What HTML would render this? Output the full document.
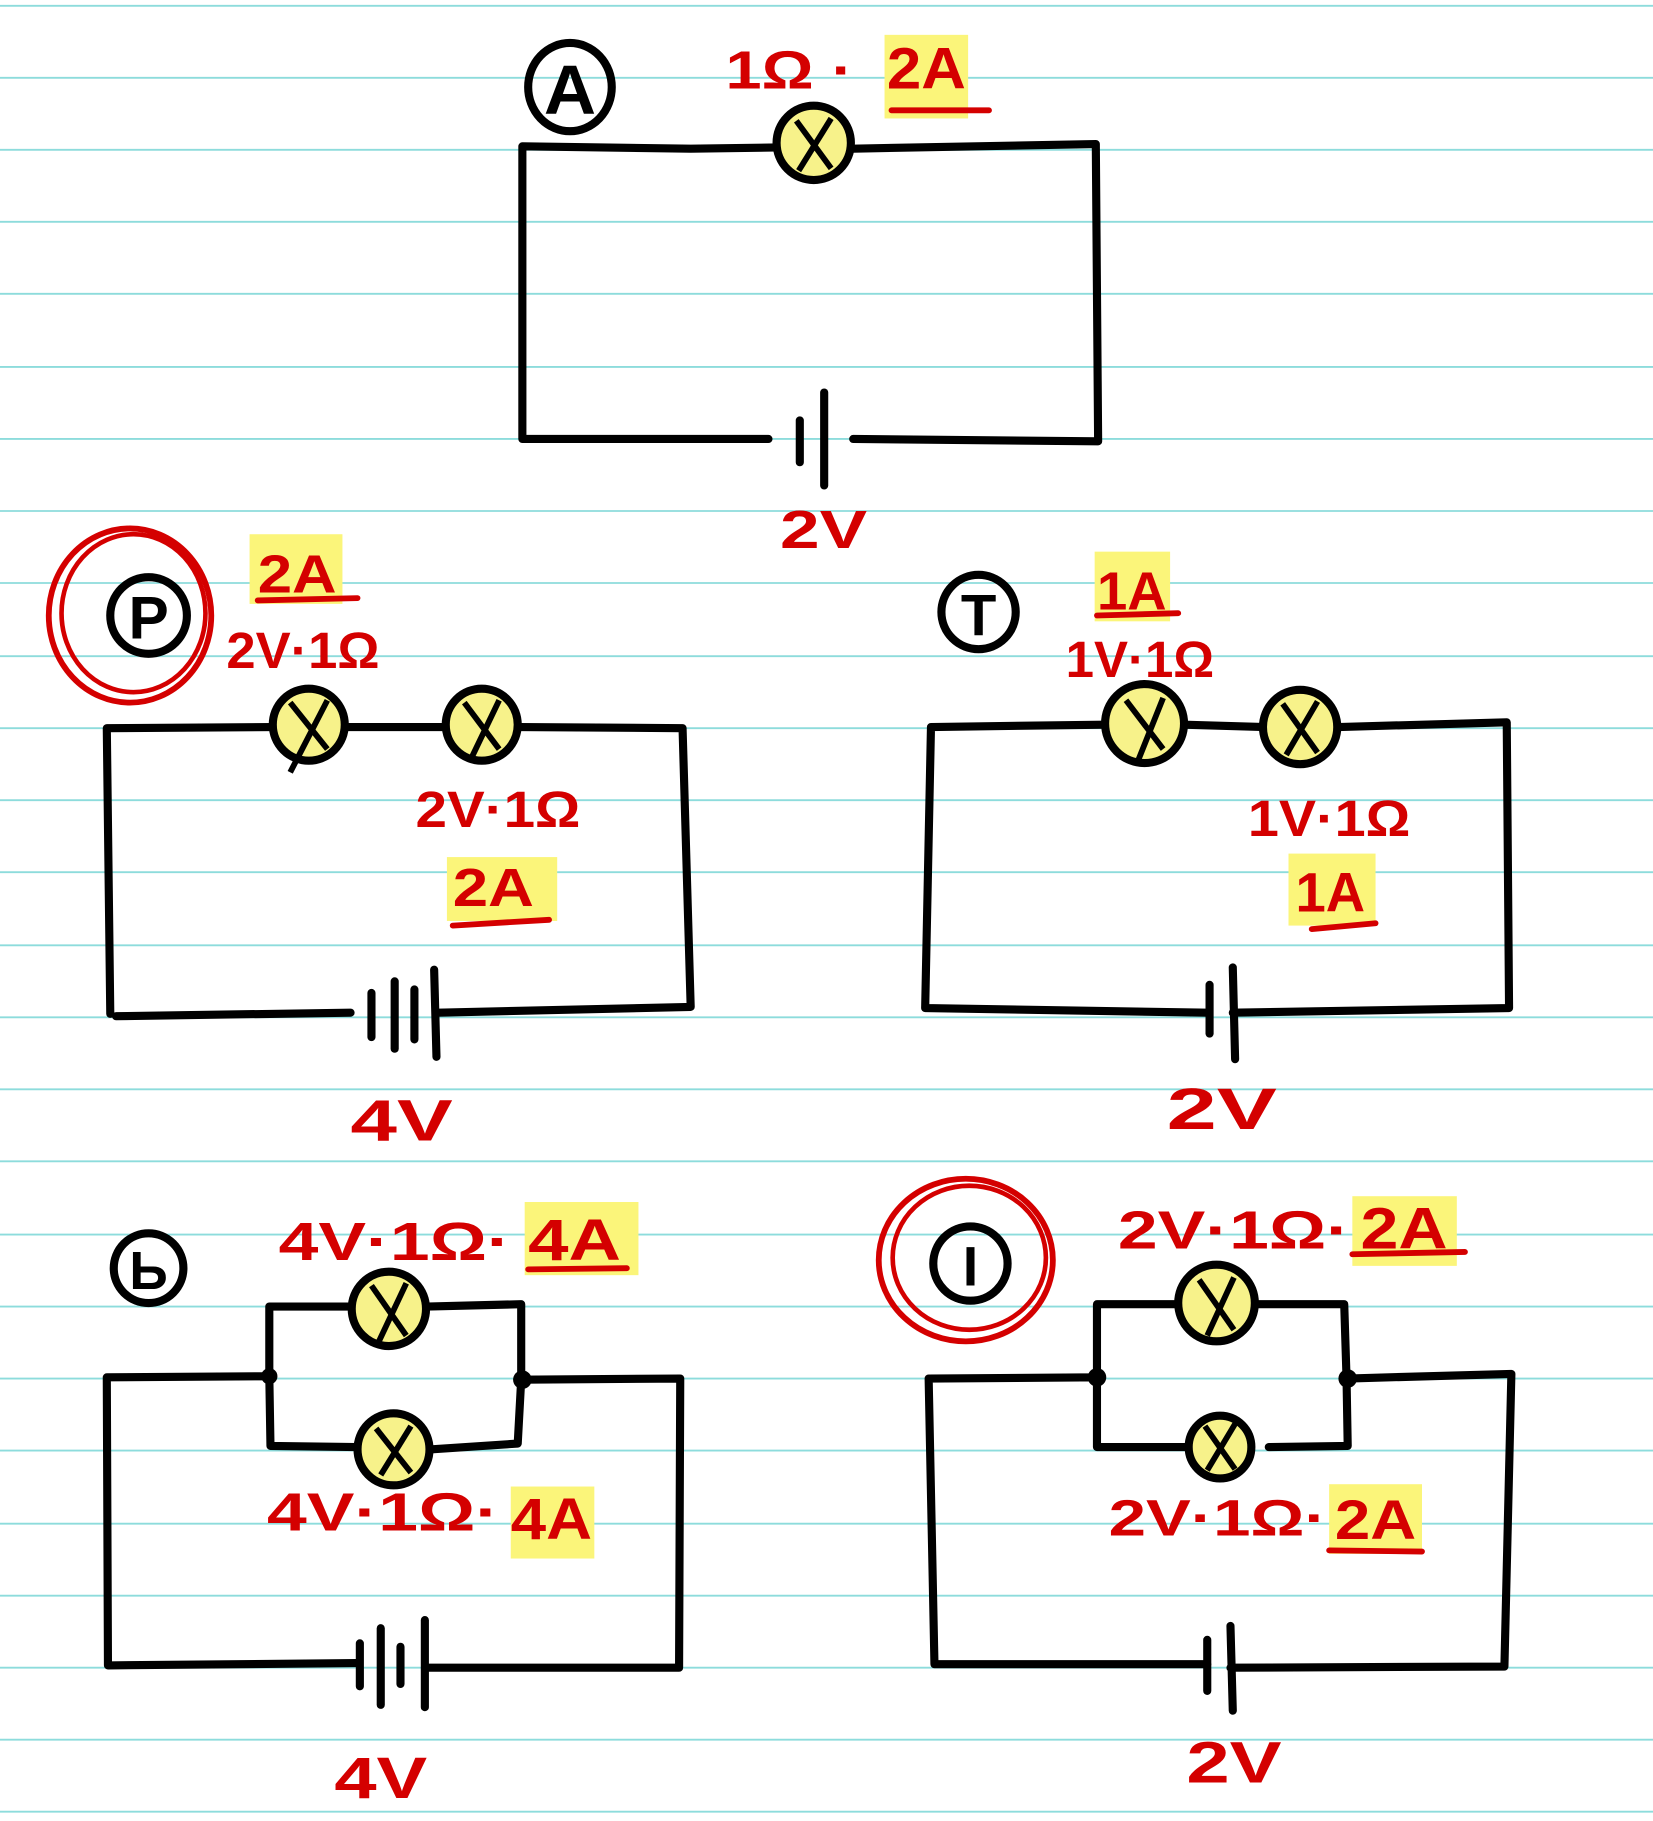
<!DOCTYPE html>
<html><head><meta charset="utf-8"><style>
html,body{margin:0;padding:0;background:#fff}
svg{display:block}
text{font-family:"Liberation Sans",sans-serif;font-weight:bold}
.r{fill:#d40000}
.w{fill:none;stroke:#000;stroke-width:7;stroke-linecap:round;stroke-linejoin:round}
.b{fill:#f7f28a;stroke:#000;stroke-width:7}
.x{stroke:#000;stroke-width:5}
.hl{fill:#fbf57a}
.ru{stroke:#d40000;stroke-width:5;stroke-linecap:round}
</style></head><body>
<svg width="1653" height="1821" viewBox="0 0 1424 1568" preserveAspectRatio="none" xmlns="http://www.w3.org/2000/svg">
<g stroke="#8ddcdc" stroke-width="1.6">
<line x1="0" y1="5" x2="1424" y2="5"/><line x1="0" y1="67" x2="1424" y2="67"/><line x1="0" y1="129" x2="1424" y2="129"/><line x1="0" y1="191" x2="1424" y2="191"/><line x1="0" y1="253" x2="1424" y2="253"/><line x1="0" y1="316" x2="1424" y2="316"/><line x1="0" y1="378" x2="1424" y2="378"/><line x1="0" y1="440" x2="1424" y2="440"/><line x1="0" y1="502" x2="1424" y2="502"/><line x1="0" y1="565" x2="1424" y2="565"/><line x1="0" y1="627" x2="1424" y2="627"/><line x1="0" y1="689" x2="1424" y2="689"/><line x1="0" y1="751" x2="1424" y2="751"/><line x1="0" y1="814" x2="1424" y2="814"/><line x1="0" y1="876" x2="1424" y2="876"/><line x1="0" y1="938" x2="1424" y2="938"/><line x1="0" y1="1000" x2="1424" y2="1000"/><line x1="0" y1="1063" x2="1424" y2="1063"/><line x1="0" y1="1125" x2="1424" y2="1125"/><line x1="0" y1="1187" x2="1424" y2="1187"/><line x1="0" y1="1249" x2="1424" y2="1249"/><line x1="0" y1="1312" x2="1424" y2="1312"/><line x1="0" y1="1374" x2="1424" y2="1374"/><line x1="0" y1="1436" x2="1424" y2="1436"/><line x1="0" y1="1498" x2="1424" y2="1498"/><line x1="0" y1="1560" x2="1424" y2="1560"/>
</g>

<!-- Circuit A -->
<ellipse cx="491" cy="75" rx="36" ry="38" fill="none" stroke="#000" stroke-width="7"/>
<text x="491" y="98" font-size="60" text-anchor="middle" textLength="45" lengthAdjust="spacingAndGlyphs">A</text>
<rect x="762" y="30" width="72" height="72" class="hl"/>
<text x="625" y="76" font-size="46" class="r" textLength="110" lengthAdjust="spacingAndGlyphs">1Ω ·</text>
<text x="764" y="76" font-size="50" class="r" textLength="68" lengthAdjust="spacingAndGlyphs">2A</text>
<line x1="768" y1="95" x2="852" y2="95" class="ru" stroke-width="9"/>
<path class="w" d="M450 378 L450 126 L595 128 L670 127 M735 128 L944 124 L946 380 L735 378 M662 378 L450 378"/>
<ellipse cx="701" cy="123" rx="32" ry="32" class="b"/>
<line x1="686" y1="104" x2="716" y2="145" class="x"/><line x1="716" y1="102" x2="688" y2="147" class="x"/>
<line x1="689" y1="362" x2="689" y2="398" class="w"/><line x1="710" y1="338" x2="710" y2="418" class="w"/>
<text x="672" y="472" font-size="46" class="r" textLength="75" lengthAdjust="spacingAndGlyphs">2V</text>

<!-- Circuit 2 (left middle) -->
<ellipse cx="112" cy="530" rx="70" ry="75" fill="none" stroke="#d40000" stroke-width="5"/>
<ellipse cx="115" cy="528" rx="62" ry="68" fill="none" stroke="#d40000" stroke-width="4"/>
<circle cx="128" cy="530" r="33" fill="none" stroke="#000" stroke-width="7"/>
<text x="128" y="550" font-size="52" text-anchor="middle">P</text>
<rect x="215" y="460" width="80" height="60" class="hl"/>
<text x="222" y="510" font-size="46" class="r" textLength="68" lengthAdjust="spacingAndGlyphs">2A</text>
<line x1="222" y1="517" x2="308" y2="515" class="ru"/>
<text x="195" y="575" font-size="44" class="r" textLength="132" lengthAdjust="spacingAndGlyphs">2V·1Ω</text>
<path class="w" d="M95 873 L92 627 L235 626 M298 626 L385 626 M448 626 L588 627 L595 867 L378 872 M302 872 L100 875"/>
<circle cx="266" cy="624" r="31" class="b"/>
<line x1="250" y1="605" x2="282" y2="645" class="x"/><line x1="282" y1="603" x2="250" y2="665" class="x"/>
<circle cx="415" cy="624" r="31" class="b"/>
<line x1="400" y1="605" x2="430" y2="645" class="x"/><line x1="430" y1="603" x2="405" y2="655" class="x"/>
<text x="358" y="712" font-size="44" class="r" textLength="142" lengthAdjust="spacingAndGlyphs">2V·1Ω</text>
<rect x="385" y="738" width="95" height="55" class="hl"/>
<text x="390" y="780" font-size="46" class="r" textLength="70" lengthAdjust="spacingAndGlyphs">2A</text>
<line x1="390" y1="797" x2="473" y2="792" class="ru"/>
<line x1="320" y1="855" x2="320" y2="893" class="w"/><line x1="340" y1="845" x2="340" y2="903" class="w"/><line x1="357" y1="852" x2="357" y2="895" class="w"/><line x1="374" y1="835" x2="376" y2="910" class="w"/>
<text x="302" y="982" font-size="50" class="r" textLength="88" lengthAdjust="spacingAndGlyphs">4V</text>

<!-- Circuit 3 (right middle) -->
<circle cx="843" cy="527" r="32" fill="none" stroke="#000" stroke-width="7"/>
<text x="843" y="547" font-size="50" text-anchor="middle">T</text>
<rect x="943" y="475" width="65" height="60" class="hl"/>
<text x="945" y="525" font-size="46" class="r" textLength="60" lengthAdjust="spacingAndGlyphs">1A</text>
<line x1="945" y1="530" x2="1015" y2="528" class="ru"/>
<text x="918" y="583" font-size="44" class="r" textLength="128" lengthAdjust="spacingAndGlyphs">1V·1Ω</text>
<path class="w" d="M797 868 L802 626 L952 624 M1020 624 L1090 626 M1153 626 L1298 622 L1300 868 L1062 872 M1040 872 L797 868"/>
<circle cx="986" cy="623" r="34" class="b"/>
<line x1="970" y1="603" x2="1002" y2="645" class="x"/><line x1="1002" y1="601" x2="980" y2="656" class="x"/>
<circle cx="1120" cy="626" r="32" class="b"/>
<line x1="1105" y1="606" x2="1135" y2="648" class="x"/><line x1="1135" y1="604" x2="1108" y2="650" class="x"/>
<text x="1075" y="720" font-size="44" class="r" textLength="140" lengthAdjust="spacingAndGlyphs">1V·1Ω</text>
<rect x="1110" y="735" width="75" height="62" class="hl"/>
<text x="1116" y="785" font-size="48" class="r" textLength="60" lengthAdjust="spacingAndGlyphs">1A</text>
<line x1="1130" y1="800" x2="1185" y2="795" class="ru"/>
<line x1="1042" y1="848" x2="1042" y2="890" class="w"/><line x1="1062" y1="833" x2="1064" y2="912" class="w"/>
<text x="1005" y="972" font-size="50" class="r" textLength="95" lengthAdjust="spacingAndGlyphs">2V</text>

<!-- Circuit 4 (left bottom) -->
<circle cx="128" cy="1092" r="30" fill="none" stroke="#000" stroke-width="7"/>
<text x="128" y="1110" font-size="46" text-anchor="middle">Ь</text>
<rect x="452" y="1035" width="98" height="63" class="hl"/>
<text x="240" y="1085" font-size="46" class="r" textLength="200" lengthAdjust="spacingAndGlyphs">4V·1Ω·</text>
<text x="455" y="1085" font-size="50" class="r" textLength="80" lengthAdjust="spacingAndGlyphs">4A</text>
<line x1="455" y1="1093" x2="540" y2="1092" class="ru"/>
<path class="w" d="M232 1185 L232 1125 L305 1125 M368 1125 L449 1123 L449 1188 L446 1243 L372 1248 M307 1246 L233 1245 L232 1185 L92 1186 L93 1434 L307 1432 M369 1436 L585 1436 L586 1187 L449 1188"/>
<circle cx="232" cy="1185" r="7"/><circle cx="450" cy="1188" r="8"/>
<circle cx="335" cy="1127" r="32" class="b"/>
<line x1="320" y1="1107" x2="350" y2="1150" class="x"/><line x1="350" y1="1105" x2="325" y2="1158" class="x"/>
<circle cx="339" cy="1248" r="31" class="b"/>
<line x1="324" y1="1230" x2="354" y2="1268" class="x"/><line x1="354" y1="1228" x2="328" y2="1270" class="x"/>
<rect x="440" y="1280" width="72" height="62" class="hl"/>
<text x="230" y="1318" font-size="46" class="r" textLength="200" lengthAdjust="spacingAndGlyphs">4V·1Ω·</text>
<text x="440" y="1325" font-size="50" class="r" textLength="70" lengthAdjust="spacingAndGlyphs">4A</text>
<line x1="310" y1="1415" x2="310" y2="1452" class="w"/><line x1="328" y1="1402" x2="328" y2="1468" class="w"/><line x1="345" y1="1418" x2="345" y2="1450" class="w"/><line x1="366" y1="1395" x2="366" y2="1470" class="w"/>
<text x="288" y="1548" font-size="50" class="r" textLength="80" lengthAdjust="spacingAndGlyphs">4V</text>

<!-- Circuit 5 (right bottom) -->
<ellipse cx="832" cy="1085" rx="75" ry="70" fill="none" stroke="#d40000" stroke-width="5"/>
<ellipse cx="835" cy="1083" rx="66" ry="62" fill="none" stroke="#d40000" stroke-width="4"/>
<circle cx="836" cy="1088" r="32" fill="none" stroke="#000" stroke-width="7"/>
<text x="836" y="1107" font-size="48" text-anchor="middle">I</text>
<rect x="1165" y="1030" width="90" height="60" class="hl"/>
<text x="963" y="1075" font-size="46" class="r" textLength="200" lengthAdjust="spacingAndGlyphs">2V·1Ω·</text>
<text x="1172" y="1075" font-size="50" class="r" textLength="75" lengthAdjust="spacingAndGlyphs">2A</text>
<line x1="1165" y1="1080" x2="1262" y2="1078" class="ru"/>
<path class="w" d="M945 1186 L945 1123 L1015 1123 M1082 1123 L1158 1123 L1160 1187 L1161 1245 L1093 1246 M1025 1246 L945 1246 L945 1186 L800 1187 L805 1433 L1040 1433 M1060 1436 L1296 1435 L1302 1183 L1161 1187"/>
<circle cx="945" cy="1186" r="8"/><circle cx="1161" cy="1187" r="8"/>
<circle cx="1048" cy="1122" r="33" class="b"/>
<line x1="1033" y1="1102" x2="1063" y2="1145" class="x"/><line x1="1063" y1="1100" x2="1040" y2="1150" class="x"/>
<circle cx="1051" cy="1246" r="27" class="b"/>
<line x1="1038" y1="1228" x2="1064" y2="1265" class="x"/><line x1="1064" y1="1226" x2="1040" y2="1266" class="x"/>
<rect x="1145" y="1278" width="80" height="60" class="hl"/>
<text x="955" y="1322" font-size="44" class="r" textLength="188" lengthAdjust="spacingAndGlyphs">2V·1Ω·</text>
<text x="1150" y="1325" font-size="48" class="r" textLength="70" lengthAdjust="spacingAndGlyphs">2A</text>
<line x1="1145" y1="1335" x2="1225" y2="1336" class="ru"/>
<line x1="1040" y1="1412" x2="1040" y2="1456" class="w"/><line x1="1060" y1="1400" x2="1062" y2="1473" class="w"/>
<text x="1022" y="1535" font-size="50" class="r" textLength="82" lengthAdjust="spacingAndGlyphs">2V</text>
</svg>
</body></html>
